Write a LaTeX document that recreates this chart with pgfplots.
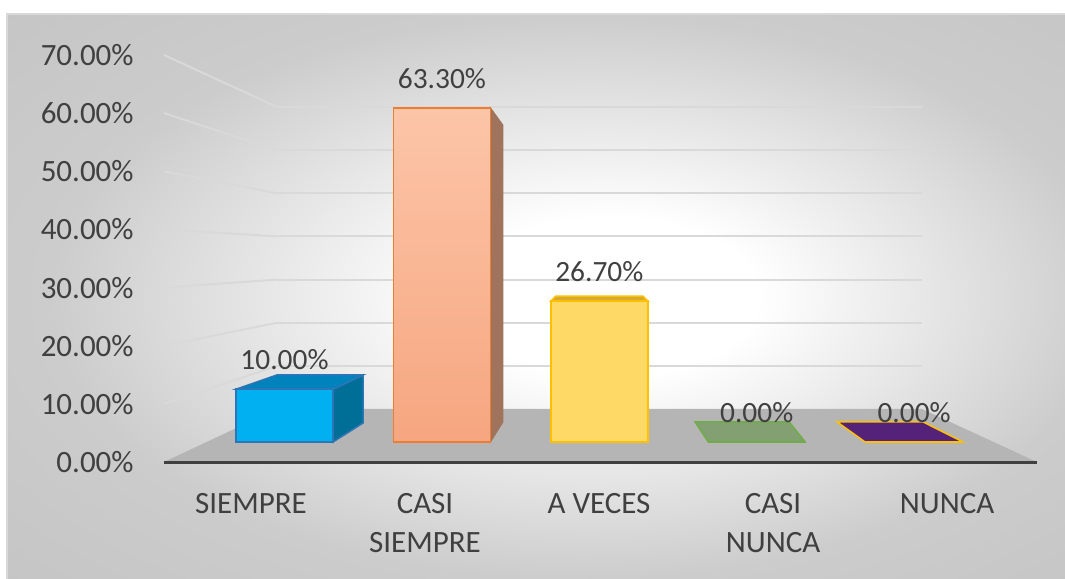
\documentclass[border=0pt]{standalone}
\usepackage{fontspec}
\setmainfont{Carlito}
\usepackage{pgfplots}
\pgfplotsset{compat=1.18}
\definecolor{txt}{RGB}{64,64,64}
\definecolor{gridc}{RGB}{217,217,217}
\definecolor{floorc}{RGB}{181,181,181}
\definecolor{basec}{RGB}{64,64,64}
\definecolor{sfront}{RGB}{0,176,240}
\definecolor{sedge}{RGB}{46,117,182}
\definecolor{stop}{RGB}{0,130,188}
\definecolor{sside}{RGB}{0,111,152}
\definecolor{cstop}{RGB}{252,197,168}
\definecolor{csbot}{RGB}{246,166,128}
\definecolor{csedge}{RGB}{237,125,49}
\definecolor{csside}{RGB}{160,115,92}
\definecolor{afront}{RGB}{255,217,102}
\definecolor{aedge}{RGB}{255,192,0}
\definecolor{atop}{RGB}{214,170,50}
\definecolor{cnfill}{RGB}{130,160,113}
\definecolor{cnedge}{RGB}{112,173,71}
\definecolor{nfill}{RGB}{84,34,120}
\definecolor{nedge}{RGB}{255,192,0}
\pgfdeclareradialshading{bgshade}{\pgfpoint{4bp}{0bp}}{color(0bp)=(white); color(7bp)=(white); color(25bp)=(black!20); color(50bp)=(black!26)}
\pgfplotsset{
  barlabel/.style={
    nodes near coords={\pgfmathprintnumber[fixed,fixed zerofill,precision=2,assume math mode=true]{\pgfplotspointmeta}\%},
    every node near coord/.append style={font=\fontsize{14.7}{17}\selectfont, text=txt, anchor=base, inner sep=0pt, yshift=9.75pt}
  },
  onebar/.style={ybar, bar width=48.5pt, bar shift=0pt, line width=0.75pt, barlabel},
  frontplane/.style={at={(82pt,58pt)}, anchor=south west, scale only axis,
    width=436.5pt, height=203.5pt, xmin=-0.5, xmax=4.517, ymin=0, ymax=70, clip=false}
}
\begin{document}
\begin{tikzpicture}[x=1pt,y=1pt]
\useasboundingbox (0,0) rectangle (532.5,289);
\fill[white] (0,0) rectangle (532.5,289);
\shade[shading=bgshade] (3.5,-1) rectangle (533.5,282);
\draw[gridc, line width=0.6pt] (3.5,-1) -- (3.5,282) -- (533.5,282);

% back wall
\begin{axis}[at={(138.5pt,84.5pt)}, anchor=south west, scale only axis,
  width=322.5pt, height=151pt, xmin=0, xmax=1, ymin=0, ymax=70,
  ytick={10,20,...,70}, xtick=\empty, yticklabels={},
  ymajorgrids, grid style={gridc, line width=1pt},
  axis line style={draw=none}, tick style={draw=none}, clip=false]
\addplot[draw=none] coordinates {(0,0) (1,70)};
\pgfplotsinvokeforeach{0,10,...,70}{\coordinate (B#1) at (axis cs:0,#1);}
\coordinate (BR) at (axis cs:1,0);
\end{axis}

% front plane coordinates only
\begin{axis}[frontplane, hide axis]
\addplot[draw=none] coordinates {(0,0) (4,70)};
\pgfplotsinvokeforeach{0,10,...,70}{\coordinate (F#1) at (axis cs:-0.5,#1);}
\coordinate (FR) at (axis cs:4.517,0);
\end{axis}

% floor and side-wall grid lines
\fill[floorc] (F0) -- (B0) -- (BR) -- (FR) -- cycle;
\foreach \v in {10,20,...,70} {\draw[gridc, line width=1pt] (F\v) -- (B\v);}

% front plane: tick labels and baseline
\begin{axis}[frontplane,
  axis x line*=bottom, axis y line*=left,
  x axis line style={basec, line width=1.5pt, -},
  y axis line style={draw=none}, tick style={draw=none},
  ytick={0,10,20,30,40,50,60,70},
  yticklabels={0.00\%,10.00\%,20.00\%,30.00\%,40.00\%,50.00\%,60.00\%,70.00\%},
  xtick={0,1,2,3,4},
  xticklabels={SIEMPRE,{CASI\\SIEMPRE},A VECES,{CASI\\NUNCA},NUNCA},
  tick label style={font=\fontsize{15.5}{19.5}\selectfont, text=txt, inner sep=0pt},
  yticklabel style={anchor=east, xshift=-15pt},
  xticklabel style={anchor=north, align=center, yshift=-15.5pt}]
\addplot[draw=none] coordinates {(0,0) (4,70)};
\end{axis}

% bars
\begin{axis}[at={(102.9pt,68pt)}, anchor=south west, scale only axis,
  width=393.5pt, height=184.8pt, xmin=-0.5, xmax=4.5, ymin=0, ymax=70,
  hide axis, clip=false]
% SIEMPRE
\addplot[fill=sside, draw=sedge, line width=0.75pt] coordinates {(0.308,10) (0.499,12.7) (0.499,3.6) (0.308,0)} -- cycle;
\addplot[fill=stop, draw=sedge, line width=0.75pt] coordinates {(-0.308,10) (0.308,10) (0.499,12.7) (-0.048,12.7)} -- cycle;
\addplot[onebar, fill=sfront, draw=sedge] coordinates {(0,10)};
% CASI SIEMPRE
\addplot[fill=csside, draw=csside, line width=0.5pt] coordinates {(1.308,63.3) (1.388,60.0) (1.388,3.8) (1.308,0)} -- cycle;
\addplot[onebar, top color=cstop, bottom color=csbot, draw=csedge] coordinates {(1,63.3)};
% A VECES
\addplot[fill=atop, draw=aedge, line width=0.75pt] coordinates {(1.692,26.7) (2.308,26.7) (2.276,27.65) (1.724,27.65)} -- cycle;
\addplot[onebar, fill=afront, draw=aedge] coordinates {(2,26.7)};
% CASI NUNCA
\addplot[fill=cnfill, draw=cnedge, line width=0.75pt] coordinates {(2.692,0) (3.308,0) (3.206,3.8) (2.609,3.8)} -- cycle;
\addplot[onebar, fill=cnfill, draw=cnedge] coordinates {(3,0)};
% NUNCA
\addplot[fill=nfill, draw=nedge, line width=0.75pt] coordinates {(3.689,0) (4.311,0) (4.057,3.8) (3.511,3.8)} -- cycle;
\addplot[onebar, fill=nfill, draw=nedge] coordinates {(4,0)};
\end{axis}
\end{tikzpicture}
\end{document}
